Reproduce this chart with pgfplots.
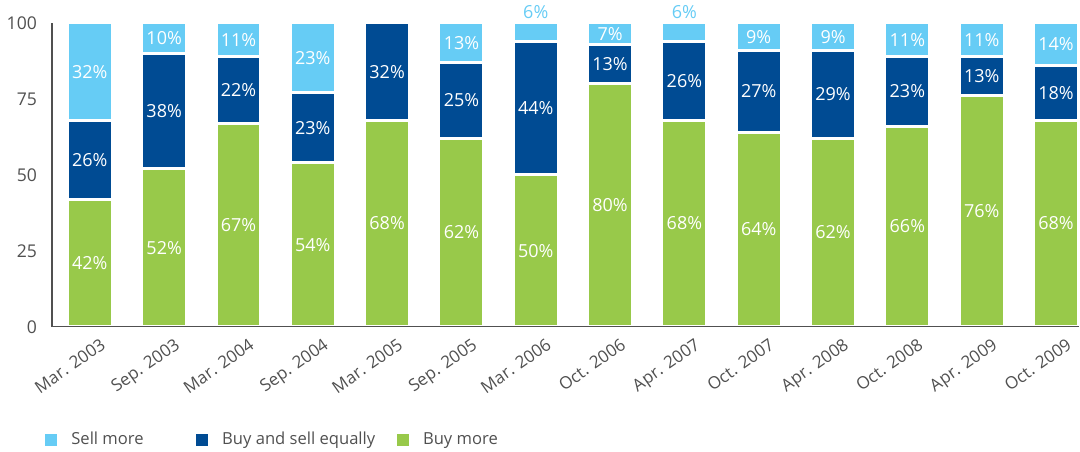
\documentclass[border=0pt]{standalone}
\usepackage{pgfplots}
\pgfplotsset{compat=1.18}
\usepackage{fontspec}
\setmainfont{Open Sans}
\definecolor{sellc}{HTML}{66CCF5}
\definecolor{equalc}{HTML}{004B93}
\definecolor{buyc}{HTML}{98C94A}
\definecolor{txt}{HTML}{505050}
\begin{document}
\begin{tikzpicture}[font=\fontsize{8.3}{10}\selectfont]
\pgfplotsset{
  common/.style={
    width=514pt, height=152pt, scale only axis,
    xmin=-0.51, xmax=13.31, ymin=0, ymax=100,
    clip=false,
  },
  sq/.style={legend image code/.code={\fill[##1] (0pt,-3.75pt) rectangle (7.5pt,3.75pt);}},
}
\begin{axis}[common,
  ybar stacked, bar width=22.5pt,
  axis x line=bottom, axis y line=left,
  axis line style={draw=txt, line width=0.6pt, -},
  xtick={0,...,13},
  xticklabels={Mar. 2003, Sep. 2003, Mar. 2004, Sep. 2004, Mar. 2005, Sep. 2005, Mar. 2006, Oct. 2006, Apr. 2007, Oct. 2007, Apr. 2008, Oct. 2008, Apr. 2009, Oct. 2009},
  x tick label style={rotate=35, anchor=north east, text=txt, inner sep=0pt, xshift=1pt, yshift=-7pt, font=\fontsize{8.5}{10}\selectfont},
  ytick={0,25,50,75,100},
  y tick label style={text=txt, xshift=-4pt, font=\fontsize{8.8}{10}\selectfont},
  major tick length=0pt,
  /pgf/number format/assume math mode=true,
  axis on top,
  legend columns=3, reverse legend,
  legend style={at={(-0.0097,-0.342)}, anchor=north west, draw=none, fill=none,
    inner sep=0pt, nodes={inner sep=0pt, text=txt},
    /tikz/every odd column/.append style={column sep=5.5pt},
    /tikz/every even column/.append style={column sep=0pt}},
  every axis plot post/.append style={sq},
]
\addplot[fill=buyc, draw=white, line width=1.5pt] coordinates {
(0,42) (1,52) (2,67) (3,54) (4,68) (5,62) (6,50) (7,80) (8,68) (9,64) (10,62) (11,66) (12,76) (13,68)};
\addlegendentry{Buy more}
\addplot[fill=equalc, draw=white, line width=1.5pt] coordinates {
(0,26) (1,38) (2,22) (3,23) (4,32) (5,25) (6,44) (7,13) (8,26) (9,27) (10,29) (11,23) (12,13) (13,18)};
\addlegendentry{\makebox[86pt][l]{Buy and sell equally}}
\addplot[fill=sellc, draw=white, line width=1.5pt] coordinates {
(0,32) (1,10) (2,11) (3,23) (4,0) (5,13) (6,6) (7,7) (8,6) (9,9) (10,9) (11,11) (12,11) (13,14)};
\addlegendentry{\makebox[61pt][l]{Sell more}}
\end{axis}
\begin{axis}[common, hide axis]
\addplot[only marks, mark=*, mark size=0pt, mark options={draw=none, fill=none},
  nodes near coords={\pgfplotspointmeta\%}, point meta=explicit symbolic,
  every node near coord/.style={anchor=center, text=white, inner sep=0pt, font=\fontsize{9}{10}\selectfont}]
table[meta=l] {
x y l
0 21 42
1 26 52
2 33.5 67
3 27 54
4 34 68
5 31 62
6 25 50
7 40 80
8 34 68
9 32 64
10 31 62
11 33 66
12 38 76
13 34 68
0 55 26
1 71 38
2 78 22
3 65.5 23
4 84 32
5 74.5 25
6 72 44
7 86.5 13
8 81 26
9 77.5 27
10 76.5 29
11 77.5 23
12 82.5 13
13 77 18
0 84 32
1 95 10
2 94.5 11
3 88.5 23
5 93.5 13
7 96.5 7
9 95.5 9
10 95.5 9
11 94.5 11
12 94.5 11
13 93 14
};
\addplot[only marks, mark=*, mark size=0pt, mark options={draw=none, fill=none},
  nodes near coords={\pgfplotspointmeta\%}, point meta=explicit symbolic,
  every node near coord/.style={anchor=center, text=sellc, inner sep=0pt, font=\fontsize{9}{10}\selectfont}]
table[meta=l] {
x y l
6 103.5 6
8 103.5 6
};
\end{axis}
\path[use as bounding box] (-26pt,-62.5pt) rectangle (514pt,163.5pt);
\end{tikzpicture}
\end{document}
